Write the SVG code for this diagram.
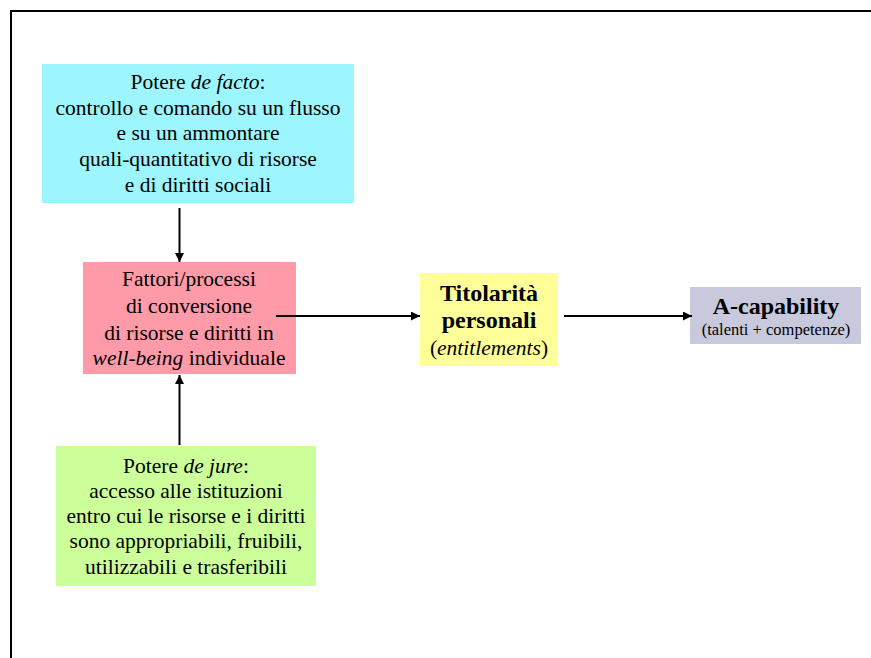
<svg xmlns="http://www.w3.org/2000/svg" width="871" height="658" viewBox="0 0 871 658">
<style>
.t{font-family:"Liberation Serif","Times New Roman",serif;font-size:21.5px;fill:#000;text-anchor:middle}
.b{font-weight:bold;font-size:24px}
.s{font-size:16.5px}
.c{stroke:#000;stroke-width:2;fill:none}
</style>
<defs>
<marker id="ah" viewBox="0 0 10 10" refX="10" refY="5" markerWidth="4.5" markerHeight="4.5" markerUnits="strokeWidth" orient="auto">
<path d="M0,0 L10,5 L0,10 z" fill="#000"/>
</marker>
</defs>
<rect width="871" height="658" fill="#fff"/>
<polyline points="11,658 11,11 871,11" fill="none" stroke="#000" stroke-width="2"/>
<g id="defacto">
<rect x="42" y="64" width="312" height="139" fill="#9DF5FE"/>
<text class="t" x="198" y="89">Potere <tspan font-style="italic">de facto</tspan>:</text>
<text class="t" x="198" y="115">controllo e comando su un flusso</text>
<text class="t" x="198" y="140">e su un ammontare</text>
<text class="t" x="198" y="166">quali-quantitativo di risorse</text>
<text class="t" x="198" y="192">e di diritti sociali</text>
</g>
<g id="fattori">
<rect x="83" y="262" width="213" height="112" fill="#FF9AA8"/>
<text class="t" x="189" y="286">Fattori/processi</text>
<text class="t" x="189" y="313">di conversione</text>
<text class="t" x="189" y="340">di risorse e diritti in</text>
<text class="t" x="189" y="365"><tspan font-style="italic">well-being</tspan> individuale</text>
</g>
<g id="dejure">
<rect x="56" y="446" width="260" height="140" fill="#CCFF99"/>
<text class="t" x="186" y="473">Potere <tspan font-style="italic">de jure</tspan>:</text>
<text class="t" x="186" y="498">accesso alle istituzioni</text>
<text class="t" x="186" y="523">entro cui le risorse e i diritti</text>
<text class="t" x="186" y="548">sono appropriabili, fruibili,</text>
<text class="t" x="186" y="574">utilizzabili e trasferibili</text>
</g>
<g id="titolarita">
<rect x="420" y="273" width="138" height="93" fill="#FFFF99"/>
<text class="t b" x="489" y="301">Titolarità</text>
<text class="t b" x="489" y="328">personali</text>
<text class="t" x="489" y="355">(<tspan font-style="italic">entitlements</tspan>)</text>
</g>
<g id="acapability">
<rect x="690" y="287" width="171" height="57" fill="#C8C9DC"/>
<text class="t b" x="776" y="314">A-capability</text>
<text class="t s" x="776" y="335">(talenti + competenze)</text>
</g>
<g id="connectors">
<line class="c" x1="179.5" y1="208" x2="179.5" y2="262" marker-end="url(#ah)"/>
<line class="c" x1="179.5" y1="445" x2="179.5" y2="375" marker-end="url(#ah)"/>
<line class="c" x1="276" y1="316" x2="420" y2="316" marker-end="url(#ah)"/>
<line class="c" x1="564" y1="316" x2="692" y2="316" marker-end="url(#ah)"/>
</g>
</svg>
